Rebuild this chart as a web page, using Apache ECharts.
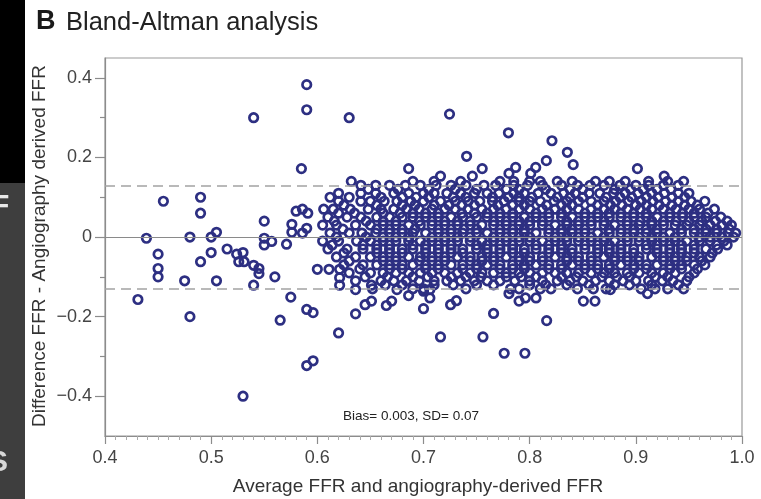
<!DOCTYPE html>
<html><head><meta charset="utf-8">
<script src="https://cdn.jsdelivr.net/npm/echarts@6/dist/echarts.min.js"></script>
<style>html,body{margin:0;padding:0;background:#fff}#c{width:761px;height:499px}</style>
</head><body><div id="c"></div>
<script>
const titleLetter = 'B';
const titleText = 'Bland-Altman analysis';
const xAxisTitle = 'Average FFR and angiography-derived FFR';
const yAxisTitle = 'Difference FFR - Angiography derived FFR';
const annotationText = 'Bias= 0.003, SD= 0.07';
const xRange = [0.4, 1.0];
const yRange = [-0.5, 0.45];
const yTickRange = [-0.4, 0.4];
const biasLineValue = 0;
const limitValues = [0.13, -0.13];

// scattered / outlying points [average, difference]
const outlierPoints = [
  [0.431,-0.157],[0.439,-0.003],[0.45,-0.043],[0.45,-0.079],[0.45,-0.10],[0.455,0.09],
  [0.475,-0.11],[0.48,0.0],[0.48,-0.20],[0.49,0.10],[0.49,0.06],[0.49,-0.062],
  [0.50,0.0],[0.505,0.012],[0.50,-0.039],[0.505,-0.11],[0.515,-0.03],[0.524,-0.043],
  [0.53,-0.039],[0.526,-0.062],[0.531,-0.062],[0.53,-0.40],[0.54,-0.071],[0.545,-0.079],
  [0.545,-0.092],[0.54,-0.121],[0.54,0.30],[0.55,0.04],[0.55,-0.003],[0.55,-0.02],
  [0.557,-0.011],[0.56,-0.10],[0.565,-0.209],[0.571,-0.018],[0.575,-0.151],
  [0.58,0.065],[0.586,0.07],[0.591,0.06],[0.576,0.032],[0.576,0.012],[0.59,0.022],[0.586,0.01],
  [0.585,0.172],[0.59,0.383],[0.59,0.32],[0.59,-0.182],[0.596,-0.19],[0.59,-0.323],[0.596,-0.311],
  [0.60,-0.081],[0.611,-0.081],[0.621,-0.081],[0.621,-0.102],[0.621,-0.121],[0.62,-0.241],
  [0.63,0.30],[0.636,-0.132],[0.636,-0.193],[0.645,-0.17],[0.651,-0.161],[0.651,-0.121],
  [0.665,-0.172],[0.67,-0.161],[0.675,-0.132],[0.686,-0.147],[0.686,0.172],
  [0.70,-0.18],[0.70,-0.136],[0.706,-0.153],[0.706,-0.132],[0.716,-0.251],
  [0.7255,-0.17],[0.731,-0.16],[0.716,0.153],[0.7245,0.309],[0.7406,0.203],
  [0.7553,0.172],[0.746,0.153],[0.756,-0.251],[0.766,-0.192],[0.776,-0.292],[0.7955,-0.292],
  [0.78,0.262],[0.7805,-0.142],[0.79,-0.161],[0.796,-0.153],[0.806,-0.153],
  [0.7868,0.175],[0.7805,0.16],[0.8057,0.175],[0.801,0.16],[0.816,-0.21],[0.8157,0.192],
  [0.821,0.242],[0.8355,0.213],[0.841,0.182],[0.8506,-0.161],[0.8615,-0.161],
  [0.876,-0.132],[0.9015,0.172],[0.9267,0.153],[0.911,-0.142]
];

// dense cluster, read row by row: difference value of the row and the averages in it
const clusterRowDiff = [0.14, 0.13, 0.12, 0.11, 0.10, 0.09, 0.08, 0.07, 0.06, 0.05, 0.04, 0.03, 0.02, 0.01, 0.00,
  -0.01, -0.02, -0.03, -0.04, -0.05, -0.06, -0.07, -0.08, -0.09, -0.10, -0.11, -0.12, -0.13];
const clusterRowAvg = [
  [0.632,0.69,0.71,0.735,0.772,0.785,0.80,0.81,0.826,0.84,0.862,0.875,0.89,0.912,0.93,0.945],
  [0.641,0.655,0.668,0.683,0.697,0.712,0.726,0.74,0.757,0.768,0.785,0.798,0.812,0.83,0.845,0.857,0.87,0.885,0.90,0.912,0.926,0.94],
  [0.648,0.676,0.705,0.73,0.75,0.778,0.79,0.815,0.838,0.85,0.88,0.895,0.907,0.92,0.933],
  [0.62,0.641,0.655,0.672,0.686,0.70,0.71,0.722,0.735,0.748,0.76,0.771,0.785,0.795,0.808,0.82,0.832,0.843,0.856,0.866,0.879,0.89,0.902,0.915,0.927,0.94,0.95],
  [0.612,0.63,0.66,0.68,0.693,0.705,0.728,0.74,0.765,0.78,0.79,0.802,0.826,0.838,0.85,0.872,0.885,0.896,0.91,0.921,0.934,0.946],
  [0.62,0.641,0.65,0.663,0.675,0.688,0.70,0.716,0.73,0.742,0.753,0.765,0.776,0.79,0.80,0.81,0.823,0.835,0.846,0.858,0.87,0.881,0.893,0.905,0.916,0.928,0.94,0.952,0.965],
  [0.625,0.656,0.68,0.692,0.71,0.724,0.736,0.748,0.77,0.784,0.795,0.816,0.83,0.84,0.864,0.876,0.887,0.9,0.91,0.922,0.934,0.946,0.958],
  [0.606,0.615,0.631,0.648,0.66,0.672,0.684,0.696,0.708,0.72,0.73,0.742,0.755,0.766,0.778,0.79,0.80,0.812,0.824,0.835,0.846,0.858,0.87,0.88,0.892,0.904,0.915,0.926,0.938,0.95,0.96,0.974],
  [0.62,0.635,0.662,0.678,0.69,0.702,0.714,0.736,0.748,0.76,0.772,0.784,0.806,0.818,0.83,0.852,0.864,0.875,0.886,0.898,0.91,0.932,0.944,0.955,0.968],
  [0.61,0.628,0.641,0.656,0.668,0.68,0.69,0.702,0.714,0.726,0.737,0.75,0.76,0.772,0.784,0.795,0.806,0.818,0.83,0.84,0.852,0.864,0.875,0.886,0.898,0.91,0.92,0.932,0.944,0.955,0.966,0.98],
  [0.616,0.646,0.662,0.674,0.696,0.708,0.72,0.732,0.744,0.766,0.778,0.79,0.80,0.812,0.835,0.846,0.858,0.87,0.892,0.904,0.915,0.926,0.938,0.95,0.962,0.975,0.986],
  [0.605,0.618,0.636,0.65,0.662,0.674,0.686,0.697,0.708,0.72,0.732,0.744,0.755,0.766,0.778,0.79,0.80,0.812,0.824,0.835,0.846,0.858,0.87,0.88,0.892,0.903,0.915,0.926,0.937,0.948,0.96,0.97,0.981,0.99],
  [0.624,0.656,0.668,0.68,0.692,0.714,0.726,0.738,0.75,0.772,0.784,0.795,0.818,0.83,0.84,0.852,0.875,0.886,0.898,0.91,0.92,0.943,0.955,0.966,0.976,0.988],
  [0.612,0.63,0.642,0.655,0.668,0.68,0.69,0.702,0.714,0.726,0.737,0.75,0.76,0.772,0.784,0.795,0.806,0.818,0.83,0.84,0.852,0.864,0.875,0.886,0.898,0.91,0.92,0.932,0.943,0.955,0.966,0.976,0.987,0.994],
  [0.618,0.646,0.662,0.674,0.686,0.708,0.72,0.732,0.744,0.766,0.778,0.79,0.80,0.824,0.835,0.846,0.858,0.87,0.892,0.903,0.915,0.926,0.937,0.96,0.97,0.981,0.992],
  [0.605,0.62,0.637,0.65,0.662,0.674,0.686,0.697,0.708,0.72,0.732,0.744,0.755,0.766,0.778,0.79,0.80,0.812,0.824,0.835,0.846,0.858,0.87,0.88,0.892,0.903,0.915,0.926,0.937,0.948,0.96,0.97,0.983],
  [0.614,0.643,0.656,0.668,0.69,0.702,0.714,0.726,0.75,0.76,0.772,0.784,0.806,0.818,0.83,0.852,0.864,0.875,0.886,0.91,0.92,0.932,0.943,0.955,0.976,0.986],
  [0.61,0.628,0.643,0.656,0.668,0.68,0.69,0.702,0.714,0.726,0.737,0.75,0.76,0.772,0.784,0.795,0.806,0.818,0.83,0.84,0.852,0.864,0.875,0.886,0.898,0.91,0.92,0.932,0.943,0.955,0.966,0.977],
  [0.625,0.656,0.668,0.68,0.702,0.714,0.726,0.737,0.76,0.772,0.784,0.795,0.818,0.83,0.84,0.864,0.875,0.886,0.898,0.92,0.932,0.943,0.955,0.972],
  [0.618,0.636,0.65,0.662,0.674,0.686,0.697,0.708,0.72,0.732,0.744,0.755,0.766,0.778,0.79,0.80,0.812,0.824,0.835,0.846,0.858,0.87,0.88,0.892,0.903,0.915,0.926,0.937,0.948,0.96,0.97],
  [0.63,0.662,0.674,0.696,0.708,0.72,0.744,0.755,0.766,0.79,0.80,0.812,0.835,0.846,0.858,0.88,0.892,0.903,0.926,0.937,0.948,0.962],
  [0.625,0.643,0.656,0.668,0.68,0.69,0.702,0.714,0.726,0.737,0.75,0.76,0.772,0.784,0.795,0.806,0.818,0.83,0.84,0.852,0.864,0.875,0.886,0.898,0.91,0.92,0.932,0.943,0.955,0.965],
  [0.64,0.668,0.68,0.702,0.714,0.737,0.75,0.772,0.784,0.795,0.818,0.83,0.852,0.864,0.875,0.898,0.91,0.932,0.943,0.958],
  [0.63,0.65,0.662,0.674,0.686,0.697,0.708,0.72,0.732,0.744,0.755,0.766,0.778,0.79,0.80,0.812,0.824,0.835,0.846,0.858,0.87,0.88,0.892,0.903,0.915,0.926,0.937,0.955],
  [0.645,0.666,0.69,0.704,0.726,0.74,0.754,0.778,0.792,0.806,0.83,0.844,0.868,0.882,0.894,0.918,0.93,0.95],
  [0.636,0.66,0.672,0.684,0.696,0.71,0.722,0.735,0.748,0.76,0.772,0.786,0.80,0.812,0.826,0.838,0.85,0.862,0.875,0.888,0.90,0.912,0.925,0.935,0.948],
  [0.664,0.68,0.71,0.728,0.75,0.766,0.80,0.815,0.835,0.856,0.88,0.894,0.915,0.94],
  [0.652,0.69,0.70,0.74,0.782,0.79,0.81,0.82,0.845,0.86,0.872,0.905,0.918,0.93,0.945]
];

const points = outlierPoints.slice();
clusterRowDiff.forEach((d, i) => clusterRowAvg[i].forEach(a => points.push([a, d])));

const axisGray = '#8c8c8c';
const labelColor = '#444';
const fontFam = '"Liberation Sans", Arial, Helvetica, sans-serif';

const chart = echarts.init(document.getElementById('c'), null, {renderer: 'canvas'});
chart.setOption({
  animation: false,
  backgroundColor: '#fff',
  grid: [
    {left: 105, right: 19, top: 58, bottom: 63, show: true, borderColor: '#999', borderWidth: 1.2, backgroundColor: 'transparent'},
    {left: 105, right: 19, top: 77.9, bottom: 102.8, show: false}
  ],
  xAxis: [
    {
      type: 'value', gridIndex: 0, min: xRange[0], max: xRange[1], interval: 0.1,
      axisLine: {show: true, onZero: false, lineStyle: {color: axisGray, width: 1.2}},
      axisTick: {show: true, inside: false, length: 8, lineStyle: {color: axisGray, width: 1.2}},
      minorTick: {show: true, splitNumber: 10, length: 4, lineStyle: {color: '#aaa', width: 1}},
      splitLine: {show: false}, minorSplitLine: {show: false},
      axisLabel: {margin: 13, fontSize: 18, color: labelColor, fontFamily: fontFam,
        formatter: v => v.toFixed(1)}
    },
    {type: 'value', gridIndex: 1, min: 0, max: 1, show: false}
  ],
  yAxis: [
    {
      type: 'value', gridIndex: 0, min: yRange[0], max: yRange[1],
      axisLine: {show: true, onZero: false, lineStyle: {color: axisGray, width: 1.2}},
      axisTick: {show: false}, axisLabel: {show: false}, splitLine: {show: false}
    },
    {
      type: 'value', gridIndex: 1, min: yTickRange[0], max: yTickRange[1], interval: 0.2,
      axisLine: {show: false, onZero: false},
      axisTick: {show: true, length: 10, lineStyle: {color: axisGray, width: 1.2}},
      minorTick: {show: true, splitNumber: 2, length: 5, lineStyle: {color: axisGray, width: 1.2}},
      splitLine: {show: false}, minorSplitLine: {show: false},
      axisLabel: {margin: 13, fontSize: 18, color: labelColor, fontFamily: fontFam,
        formatter: v => Math.abs(v) < 1e-9 ? '0' : (v < 0 ? '\u2212' : '') + Math.abs(v).toFixed(1)}
    }
  ],
  series: [
    {
      type: 'scatter', xAxisIndex: 0, yAxisIndex: 0, data: [], z: 1, silent: true,
      markLine: {
        silent: true, symbol: ['none', 'none'], label: {show: false}, animation: false,
        data: [
          {yAxis: biasLineValue, lineStyle: {type: 'solid', color: '#8a8a8a', width: 1.2}},
          {yAxis: limitValues[0], lineStyle: {type: [10, 6], color: '#a3a3a3', width: 1.6}},
          {yAxis: limitValues[1], lineStyle: {type: [10, 6], color: '#a3a3a3', width: 1.6}}
        ]
      }
    },
    {
      type: 'scatter', xAxisIndex: 0, yAxisIndex: 0, z: 2, silent: true,
      symbol: 'circle', symbolSize: 8.5, large: false,
      itemStyle: {color: 'rgba(255,255,255,0)', borderColor: '#2d2f82', borderWidth: 2.7, opacity: 1},
      emphasis: {disabled: true},
      data: points
    }
  ],
  graphic: [
    {type: 'rect', left: 0, top: 0, shape: {width: 25, height: 183}, style: {fill: '#000'}},
    {type: 'rect', left: 0, top: 183, shape: {width: 25, height: 316}, style: {fill: '#3e3e3e'}},
    {type: 'text', x: -9, y: 192, style: {text: 'F', fill: '#e8e8e8', font: 'bold 30px ' + fontFam}},
    {type: 'text', x: -12, y: 448, style: {text: 'S', fill: '#d8d8d8', font: 'bold 30px ' + fontFam}},
    {type: 'text', x: 36, y: 22, style: {text: titleLetter, fill: '#1a1a1a', font: 'bold 27px ' + fontFam, textAlign: 'left', textVerticalAlign: 'middle'}},
    {type: 'text', x: 66, y: 23, style: {text: titleText, fill: '#222', font: '25.5px ' + fontFam, textAlign: 'left', textVerticalAlign: 'middle'}},
    {type: 'text', x: 418, y: 487, style: {text: xAxisTitle, fill: '#333', font: '19px ' + fontFam, textAlign: 'center', textVerticalAlign: 'middle'}},
    {type: 'text', x: 40, y: 246, rotation: Math.PI / 2, style: {text: yAxisTitle, fill: '#333', font: '19px ' + fontFam, textAlign: 'center', textVerticalAlign: 'middle'}},
    {type: 'text', x: 411, y: 416, style: {text: annotationText, fill: '#222', font: '13.5px ' + fontFam, textAlign: 'center', textVerticalAlign: 'middle'}}
  ]
});
</script>
</body></html>
